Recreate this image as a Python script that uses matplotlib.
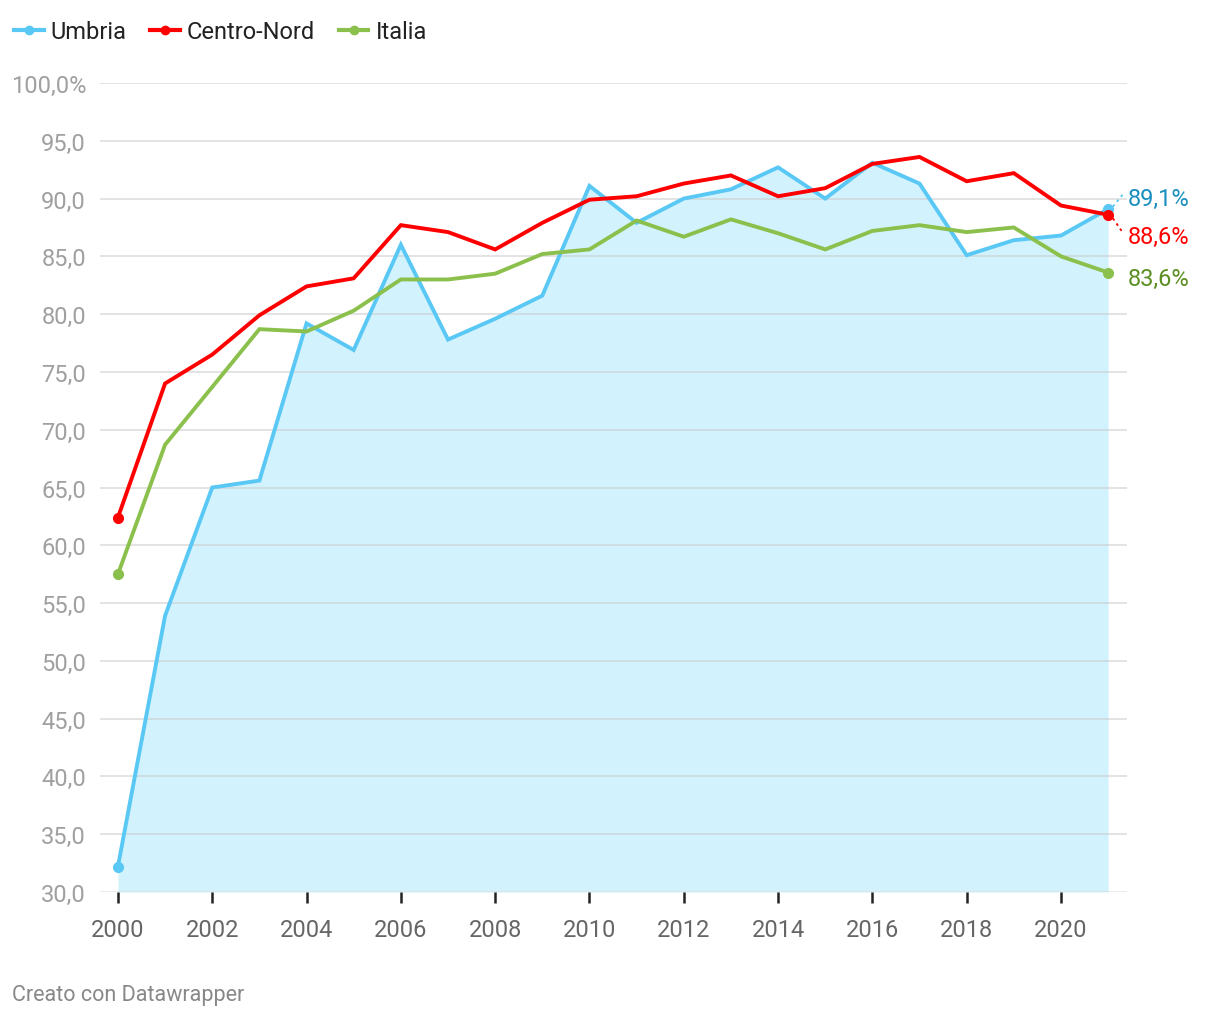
import matplotlib
matplotlib.use("Agg")
import matplotlib.pyplot as plt
from matplotlib.lines import Line2D

plt.rcParams['font.family'] = ['Roboto', 'DejaVu Sans']

years = list(range(2000, 2022))
umbria = [32.2, 53.9, 65.0, 65.6, 79.2, 76.9, 86.0, 77.8, 79.6, 81.6, 91.1,
          87.9, 90.0, 90.8, 92.7, 90.0, 93.1, 91.3, 85.1, 86.4, 86.8, 89.1]
centro_nord = [62.4, 74.0, 76.5, 79.9, 82.4, 83.1, 87.7, 87.1, 85.6, 87.9, 89.9,
               90.2, 91.3, 92.0, 90.2, 90.9, 93.0, 93.6, 91.5, 92.2, 89.4, 88.6]
italia = [57.5, 68.7, 73.7, 78.7, 78.5, 80.3, 83.0, 83.0, 83.5, 85.2, 85.6,
          88.1, 86.7, 88.2, 87.0, 85.6, 87.2, 87.7, 87.1, 87.5, 85.0, 83.6]
series_names = ["Umbria", "Centro-Nord", "Italia"]
end_labels = ["89,1%", "88,6%", "83,6%"]
yticks = [30, 35, 40, 45, 50, 55, 60, 65, 70, 75, 80, 85, 90, 95, 100]
xticks = list(range(2000, 2021, 2))

c_umbria = "#5ac8f5"
c_cn = "#ff0000"
c_it = "#8bc04d"
c_fill = "#d2f3fd"
lab_colors = ["#1a8fbf", "#ff0000", "#5b8f22"]

W, H = 1220, 1020
fig = plt.figure(figsize=(W / 100, H / 100), dpi=100)
ax = fig.add_axes([100 / W, (H - 893) / H, (1127 - 100) / W, (893 - 84) / H])
ax.set_xlim(1999.62, 2021.40)
ax.set_ylim(30, 100)

ax.fill_between(years, umbria, 30, color=c_fill, lw=0, zorder=1)
for yv in yticks:
    ax.axhline(yv, color="#c8c8c8" if yv > 30 else "#d8d8d8", lw=1.3, alpha=0.55, zorder=2)

lw = 2.8
ax.plot(years, umbria, color=c_umbria, lw=lw, zorder=3, solid_joinstyle='miter')
ax.plot(years, italia, color=c_it, lw=lw, zorder=4, solid_joinstyle='miter')
ax.plot(years, centro_nord, color=c_cn, lw=lw, zorder=5, solid_joinstyle='miter')

for vals, col in [(umbria, c_umbria), (italia, c_it), (centro_nord, c_cn)]:
    ax.plot([years[0], years[-1]], [vals[0], vals[-1]], 'o', color=col, ms=7,
            zorder=6, clip_on=False)

# end labels with connectors
lab_y = [90.0, 86.7, 83.1]
finals = [umbria[-1], centro_nord[-1], italia[-1]]
for i, (lab, ly, fv) in enumerate(zip(end_labels, lab_y, finals)):
    ax.text(2021.42, ly, lab, color=lab_colors[i], fontsize=17, va='center',
            ha='left', clip_on=False)
    if i == 0:
        ax.plot([2021.1, 2021.32], [fv + 0.2, fv + 1.3], ls=(0, (1.5, 2)),
                color=c_umbria, lw=1.3, clip_on=False)
    elif i == 1:
        ax.plot([2021.1, 2021.32], [fv - 0.3, fv - 1.6], ls=(0, (1.5, 2)),
                color=c_cn, lw=1.3, clip_on=False)

ax.set_yticks(yticks)
ax.set_yticklabels([("%.1f" % v).replace('.', ',') + ("%" if v == 100 else "")
                    for v in yticks])
ax.set_xticks(xticks)
ax.set_xticklabels([str(x) for x in xticks])
ax.tick_params(axis='y', length=0, pad=10, labelsize=17, labelcolor="#a0a0a0")
ax.tick_params(axis='x', length=8, width=1.8, color="#222222", pad=11,
               labelsize=17, labelcolor="#666666")
for sp in ax.spines.values():
    sp.set_visible(False)

# legend
handles = [Line2D([0], [0], color=c, lw=3, marker='o', ms=6)
           for c in [c_umbria, c_cn, c_it]]
fig.legend(handles, series_names, loc='upper left', bbox_to_anchor=(0.0, 0.993),
           ncol=3, frameon=False, fontsize=17, handlelength=1.25,
           handletextpad=0.3, columnspacing=1.0, borderaxespad=0.2,
           labelcolor="#222222")

fig.text(12 / W, 1 - 996 / H, "Creato con Datawrapper", fontsize=15.5,
         color="#888888", va='center', ha='left')

fig.savefig("out.png", dpi=100, facecolor="white")
